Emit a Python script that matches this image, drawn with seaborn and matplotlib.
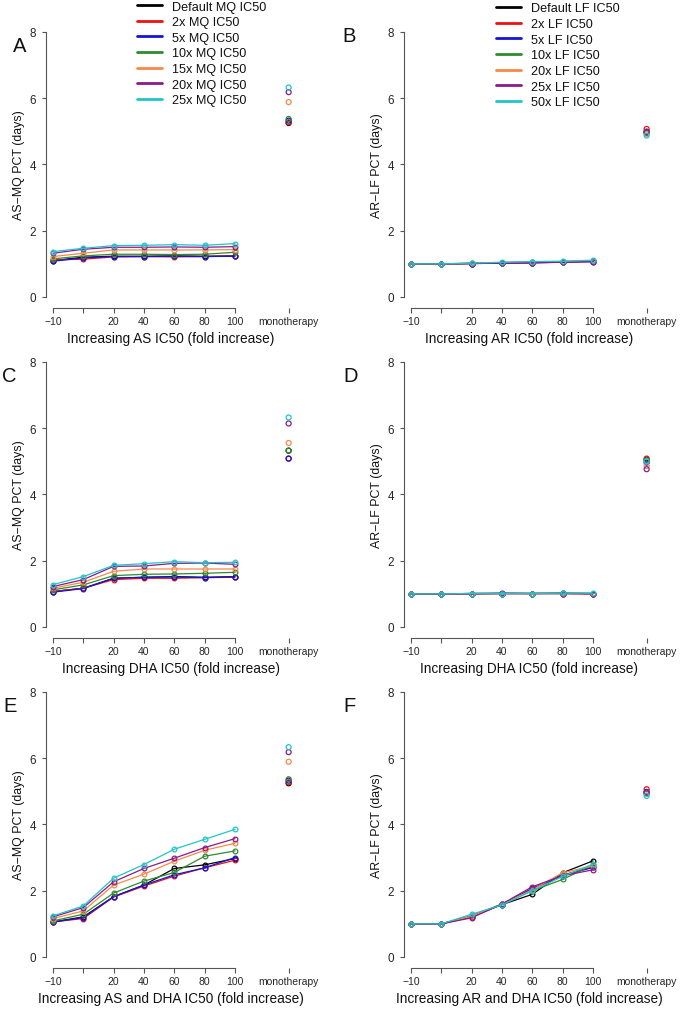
import pandas as pd
import matplotlib
matplotlib.use('Agg')
import matplotlib.pyplot as plt
from matplotlib.lines import Line2D
import seaborn as sns

# x axis: seven evenly spaced fold-increase levels plus a monotherapy column
x_labels = ['\u221210', '', '20', '40', '60', '80', '100']
mono_label = 'monotherapy'
mono_pos = 7.77

mq_series = ['Default MQ IC50', '2x MQ IC50', '5x MQ IC50', '10x MQ IC50',
             '15x MQ IC50', '20x MQ IC50', '25x MQ IC50']
lf_series = ['Default LF IC50', '2x LF IC50', '5x LF IC50', '10x LF IC50',
             '20x LF IC50', '25x LF IC50', '50x LF IC50']
colors = ['#000000', '#ee1111', '#1414d8', '#2e8b2e', '#f58a48', '#8b1a8b', '#22c4c8']

# A: AS-MQ, increasing AS IC50
pct_A = [
    [1.10, 1.20, 1.23, 1.23, 1.24, 1.23, 1.24],
    [1.12, 1.14, 1.21, 1.22, 1.21, 1.22, 1.24],
    [1.08, 1.18, 1.22, 1.22, 1.23, 1.22, 1.23],
    [1.15, 1.24, 1.29, 1.29, 1.28, 1.29, 1.35],
    [1.22, 1.32, 1.42, 1.42, 1.42, 1.42, 1.43],
    [1.32, 1.44, 1.50, 1.50, 1.51, 1.50, 1.52],
    [1.37, 1.47, 1.55, 1.56, 1.58, 1.56, 1.61],
]
mono_A = [5.25, 5.27, 5.32, 5.37, 5.88, 6.18, 6.32]

# B: AR-LF, increasing AR IC50
pct_B = [
    [1.00, 1.00, 1.01, 1.03, 1.04, 1.06, 1.08],
    [1.00, 1.00, 1.01, 1.03, 1.04, 1.06, 1.08],
    [1.00, 1.00, 1.01, 1.02, 1.03, 1.05, 1.07],
    [1.00, 1.00, 1.02, 1.04, 1.05, 1.07, 1.09],
    [1.00, 1.00, 1.02, 1.04, 1.06, 1.07, 1.10],
    [1.00, 1.00, 1.01, 1.02, 1.03, 1.05, 1.06],
    [1.00, 1.00, 1.02, 1.05, 1.07, 1.08, 1.11],
]
mono_B = [4.98, 5.07, 4.95, 4.97, 4.92, 4.99, 4.87]

# C: AS-MQ, increasing DHA IC50
pct_C = [
    [1.07, 1.17, 1.47, 1.50, 1.52, 1.50, 1.52],
    [1.07, 1.17, 1.43, 1.47, 1.47, 1.49, 1.50],
    [1.05, 1.16, 1.47, 1.50, 1.51, 1.49, 1.51],
    [1.12, 1.27, 1.55, 1.59, 1.60, 1.62, 1.65],
    [1.17, 1.35, 1.68, 1.75, 1.75, 1.75, 1.75],
    [1.22, 1.43, 1.83, 1.84, 1.92, 1.93, 1.89],
    [1.28, 1.52, 1.86, 1.91, 1.97, 1.94, 1.95],
]
mono_C = [5.32, 5.08, 5.08, 5.32, 5.55, 6.14, 6.32]

# D: AR-LF, increasing DHA IC50
pct_D = [
    [1.00, 1.00, 1.01, 1.01, 1.01, 1.01, 1.01],
    [1.00, 1.00, 1.00, 1.01, 1.01, 1.01, 1.00],
    [1.00, 1.00, 1.01, 1.02, 1.01, 1.02, 1.01],
    [1.00, 1.00, 1.01, 1.01, 1.01, 1.02, 1.01],
    [1.00, 1.00, 1.01, 1.01, 1.01, 1.01, 1.01],
    [1.00, 1.00, 1.00, 1.01, 1.01, 1.01, 1.00],
    [1.00, 1.00, 1.01, 1.01, 1.01, 1.02, 1.02],
]
mono_D = [5.05, 5.08, 4.96, 5.03, 4.86, 4.76, 5.00]

# E: AS-MQ, increasing AS and DHA IC50
pct_E = [
    [1.06, 1.21, 1.82, 2.17, 2.67, 2.78, 2.97],
    [1.06, 1.16, 1.81, 2.14, 2.44, 2.69, 2.92],
    [1.05, 1.19, 1.82, 2.17, 2.48, 2.69, 3.00],
    [1.09, 1.29, 1.93, 2.29, 2.55, 3.04, 3.20],
    [1.16, 1.39, 2.17, 2.50, 2.89, 3.22, 3.43],
    [1.21, 1.49, 2.27, 2.67, 2.98, 3.30, 3.57],
    [1.24, 1.54, 2.38, 2.79, 3.25, 3.55, 3.85],
]
mono_E = [5.24, 5.27, 5.32, 5.36, 5.89, 6.18, 6.33]

# F: AR-LF, increasing AR and DHA IC50
pct_F = [
    [1.00, 1.00, 1.22, 1.58, 1.89, 2.54, 2.90],
    [1.00, 1.00, 1.22, 1.59, 2.05, 2.47, 2.72],
    [1.00, 1.00, 1.23, 1.58, 2.07, 2.46, 2.70],
    [1.00, 1.00, 1.24, 1.60, 2.00, 2.34, 2.78],
    [1.00, 1.00, 1.23, 1.59, 2.03, 2.54, 2.75],
    [1.00, 1.00, 1.18, 1.60, 2.12, 2.45, 2.63],
    [1.00, 1.00, 1.29, 1.57, 2.00, 2.43, 2.80],
]
mono_F = [4.96, 5.06, 4.98, 4.93, 4.95, 4.96, 4.86]

sns.set_style('ticks')
plt.rcParams['font.family'] = ['Liberation Sans', 'DejaVu Sans']
plt.rcParams['text.color'] = '#111111'
plt.rcParams['axes.labelcolor'] = '#111111'

W, H = 680, 1012
fig = plt.figure(figsize=(W / 100, H / 100), dpi=100)

step = 30.33
unit = 33.15
x_lo, x_hi = -0.22, 8.0
y_lo, y_hi = -0.32, 8.32


def add_panel(left_px, zero_px):
    bottom_px = zero_px - y_lo * unit
    height = (y_hi - y_lo) * unit
    width = (x_hi - x_lo) * step
    return fig.add_axes([left_px / W, 1 - bottom_px / H, width / W, height / H])


def draw(ax, pct, mono, series, ylabel, xlabel):
    rows = [(s, i, v) for s, vals in zip(series, pct) for i, v in enumerate(vals)]
    df = pd.DataFrame(rows, columns=['series', 'pos', 'pct'])
    sns.lineplot(data=df, x='pos', y='pct', hue='series', hue_order=series,
                 palette=colors, marker='o', markersize=3.4, mfc='none',
                 lw=0.9, errorbar=None, legend=False, ax=ax)
    for line in ax.get_lines():
        line.set_markeredgecolor(line.get_color())
        line.set_markeredgewidth(0.9)

    mdf = pd.DataFrame({'series': series, 'pos': mono_pos, 'pct': mono})
    sns.scatterplot(data=mdf, x='pos', y='pct', hue='series', hue_order=series,
                    palette=colors, s=13, linewidth=0.9, legend=False, ax=ax)
    pc = ax.collections[-1]
    pc.set_edgecolors(pc.get_facecolors())
    pc.set_facecolors('none')

    ax.set_xlim(x_lo, x_hi)
    ax.set_ylim(y_lo, y_hi)
    ax.set_xticks(list(range(7)) + [mono_pos])
    ax.set_xticklabels(x_labels + [mono_label], fontsize=7.5)
    ax.set_yticks([0, 2, 4, 6, 8])
    ax.set_yticklabels(['0', '2', '4', '6', '8'], fontsize=8.4)
    sns.despine(ax=ax)
    ax.spines['left'].set_bounds(0, 8)
    ax.spines['bottom'].set_bounds(0, 6)
    for sp in ['left', 'bottom']:
        ax.spines[sp].set_color('#555555')
        ax.spines[sp].set_linewidth(0.8)
    ax.tick_params(axis='x', length=3.4, width=0.8, color='#555555', pad=2.5)
    ax.tick_params(axis='y', length=3.0, width=0.8, color='#555555', pad=4.5)
    ax.set_xlabel(xlabel, fontsize=9.8, labelpad=4)
    ax.set_ylabel(ylabel, fontsize=8.9, labelpad=3.5)


panels = [
    (46.3, 298, pct_A, mono_A, mq_series, 'AS\u2212MQ PCT (days)', 'Increasing AS IC50 (fold increase)', 'A', (20, 46)),
    (404.3, 298, pct_B, mono_B, lf_series, 'AR\u2212LF PCT (days)', 'Increasing AR IC50 (fold increase)', 'B', (349, 36)),
    (46.3, 628, pct_C, mono_C, mq_series, 'AS\u2212MQ PCT (days)', 'Increasing DHA IC50 (fold increase)', 'C', (9.5, 377)),
    (404.3, 628, pct_D, mono_D, lf_series, 'AR\u2212LF PCT (days)', 'Increasing DHA IC50 (fold increase)', 'D', (351, 376)),
    (46.3, 958, pct_E, mono_E, mq_series, 'AS\u2212MQ PCT (days)', 'Increasing AS and DHA IC50 (fold increase)', 'E', (10, 707)),
    (404.3, 958, pct_F, mono_F, lf_series, 'AR\u2212LF PCT (days)', 'Increasing AR and DHA IC50 (fold increase)', 'F', (350, 707)),
]

axes = []
for left, zero, pct, mono, series, yl, xl, letter, lpos in panels:
    ax = add_panel(left, zero)
    draw(ax, pct, mono, series, yl, xl)
    fig.text(lpos[0] / W, 1 - lpos[1] / H, letter, fontsize=14.5,
             ha='center', va='center')
    axes.append(ax)

# legends above panels A and B
for series, (lx, ly) in [(mq_series, (137, 1.5)), (lf_series, (496, 3.5))]:
    handles = [Line2D([], [], color=c, lw=2.0) for c in colors]
    fig.legend(handles, series, loc='upper left',
               bbox_to_anchor=(lx / W, 1 - ly / H), frameon=False,
               fontsize=9.1, handlelength=2.0, handletextpad=0.8,
               labelspacing=0.29, borderpad=0, borderaxespad=0)

fig.savefig('out.png', dpi=100)
